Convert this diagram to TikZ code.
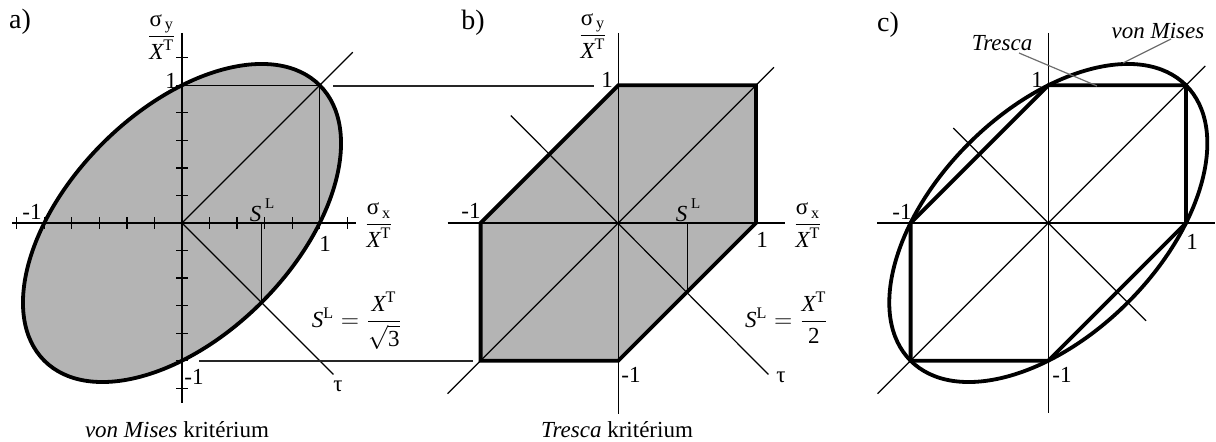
\documentclass[tikz,border=0pt]{standalone}
\usepackage{fontspec}
\setmainfont{Liberation Serif}
\usepackage{amsmath}
\definecolor{fillg}{RGB}{180,180,180}
\definecolor{leadg}{RGB}{110,110,110}
\begin{document}
\begin{tikzpicture}[x=0.5pt,y=-0.5pt,
  lbl/.style={inner sep=0pt, font=\fontsize{11.5}{13}\selectfont},
  big/.style={inner sep=0pt, font=\fontsize{14}{16}\selectfont},
  thinl/.style={line width=0.6pt},
  thickl/.style={line width=1.9pt, line join=miter},
  leader/.style={line width=0.6pt, draw=leadg},
  unitsc/.style={x=68.85pt, y=68.85pt}]
\useasboundingbox (0,0) rectangle (1216,442);

% ---------------- panel a ----------------
\begin{scope}[shift={(182,223)}, unitsc]
  \fill[fillg, rotate=45] (0,0) ellipse [x radius=1.41421, y radius=0.81650];
  \draw[thinl] (-1.235,0) -- (1.264,0);
  \draw[thinl] (0,1.38) -- (0,-1.31);
  \foreach \k in {-6,-5,-4,-3,-2,-1,1,2,3,4,5,6} {
    \draw[thinl] (\k*0.2,-0.04) -- (\k*0.2,0.04);
    \draw[thinl] (-0.04,\k*0.2) -- (0.04,\k*0.2);
  }
  \draw[thinl] (0,0) -- (1.24,1.24);
  \draw[thinl] (0,0) -- (1.1,-1.1);
  \draw[thinl] (0,1) -- (1,1) -- (1,0);
  \draw[thinl] (0.57735,0) -- (0.57735,-0.57735);
  \draw[thickl, rotate=45] (0,0) ellipse [x radius=1.41421, y radius=0.81650];
\end{scope}

% connecting lines a -> b
\coordinate (ca1) at (333,86);
\coordinate (cb1) at (594,86);
\coordinate (ca2) at (199,361);
\coordinate (cb2) at (473,361);
\draw[thinl, black!85] (ca1) -- (cb1);
\draw[thinl, black!85] (ca2) -- (cb2);

% ---------------- panel b ----------------
\begin{scope}[shift={(618.3,223)}, unitsc]
  \fill[fillg] (0,1) -- (1,1) -- (1,0) -- (0,-1) -- (-1,-1) -- (-1,0) -- cycle;
  \draw[thinl] (-1.24,0) -- (1.21,0);
  \draw[thinl] (0,1.38) -- (0,-1.385);
  \draw[thinl] (-1.24,-1.24) -- (1.13,1.13);
  \draw[thinl] (-0.78,0.78) -- (1.09,-1.1);
  \draw[thinl] (0.5,0) -- (0.5,-0.5);
  \draw[thickl] (0,1) -- (1,1) -- (1,0) -- (0,-1) -- (-1,-1) -- (-1,0) -- cycle;
\end{scope}

% ---------------- panel c ----------------
\begin{scope}[shift={(1048.3,223)}, unitsc]
  \draw[thinl] (-1.244,0) -- (1.21,0);
  \draw[thinl] (0,1.38) -- (0,-1.38);
  \draw[thinl] (-1.24,-1.24) -- (1.14,1.14);
  \draw[thinl] (-0.69,0.69) -- (0.71,-0.71);
  \draw[thickl] (0,1) -- (1,1) -- (1,0) -- (0,-1) -- (-1,-1) -- (-1,0) -- cycle;
  \draw[thickl, rotate=45] (0,0) ellipse [x radius=1.41421, y radius=0.81650];
\end{scope}

% ---------------- labels a ----------------
\node[big] (la) at (20,22) {a)};
\node[lbl] (sya) at (161.7,37) {$\dfrac{\text{σ}_{\,\text{y}}}{\textit{X}^{\text{T}}}$};
\node[lbl] (a1y) at (171,81) {1};
\node[lbl] (am1x) at (32,212) {-1};
\node[lbl] (aSL) at (262,210) {\textit{S}\,\raisebox{0.55em}{\fontsize{7.5}{8}\selectfont L}};
\node[lbl] (a1x) at (325,244) {1};
\node[lbl] (sxa) at (379,225) {$\dfrac{\text{σ}_{\,\text{x}}}{\textit{X}^{\text{T}}}$};
\node[lbl] (aform) at (357,321) {$\textit{S}^{\text{L}} = \dfrac{\textit{X}^{\text{T}}}{\sqrt{\text{3}}}$};
\node[lbl] (am1y) at (194,377) {-1};
\node[lbl] (atau) at (338,386) {τ};
\node[lbl] (capa) at (177,430) {\textit{von Mises} kritérium};

% ---------------- labels b ----------------
\node[big] (lb) at (473,23) {b)};
\node[lbl] (syb) at (593,36) {$\dfrac{\text{σ}_{\,\text{y}}}{\textit{X}^{\text{T}}}$};
\node[lbl] (b1y) at (607,80) {1};
\node[lbl] (bm1x) at (471,211) {-1};
\node[lbl] (bSL) at (688,210) {\textit{S}\,\raisebox{0.55em}{\fontsize{7.5}{8}\selectfont L}};
\node[lbl] (b1x) at (762,240) {1};
\node[lbl] (sxb) at (808,225) {$\dfrac{\text{σ}_{\,\text{x}}}{\textit{X}^{\text{T}}}$};
\node[lbl] (bform) at (787,318) {$\textit{S}^{\text{L}} = \dfrac{\textit{X}^{\text{T}}}{\text{2}}$};
\node[lbl] (bm1y) at (631,375) {-1};
\node[lbl] (btau) at (781,377) {τ};
\node[lbl] (capb) at (617,430) {\textit{Tresca} kritérium};

% ---------------- labels c ----------------
\node[big] (lc) at (888,25) {c)};
\node[lbl] (ctres) at (1002,43) {\textit{Tresca}};
\node[lbl] (cvm) at (1158,31) {\textit{von Mises}};
\node[lbl] (c1y) at (1037,80) {1};
\node[lbl] (cm1x) at (902,212) {-1};
\node[lbl] (c1x) at (1192,242) {1};
\node[lbl] (cm1y) at (1062,375) {-1};
\coordinate (ptres) at (1097,86);
\coordinate (pvm) at (1123,63);
\draw[leader] (1019,53) -- (ptres);
\draw[leader] (1171,39) -- (pvm);
\end{tikzpicture}
\end{document}
